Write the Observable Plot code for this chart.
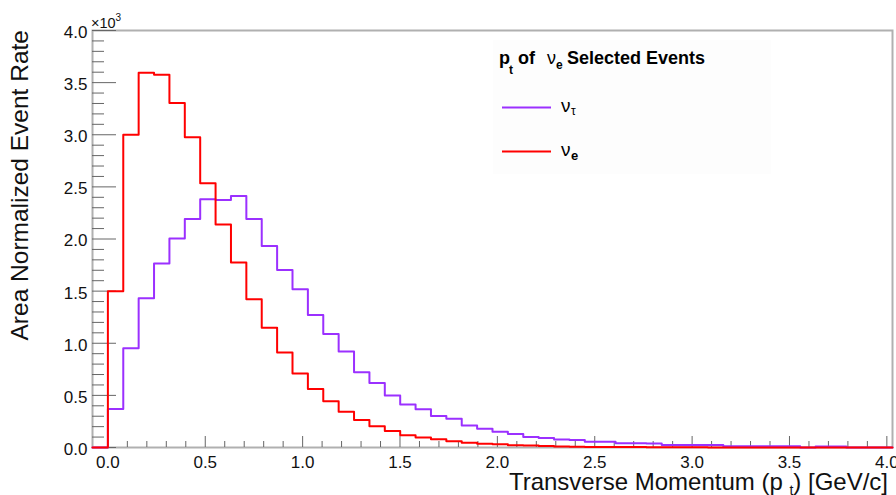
<!DOCTYPE html>
<html><head><meta charset="utf-8">
<script src="https://cdn.jsdelivr.net/npm/d3@7"></script>
<script src="https://cdn.jsdelivr.net/npm/@observablehq/plot@0.6"></script>
<style>body{margin:0;background:#fff}</style>
</head><body><div id="chart"></div>
<script>
// Histogram bin edges (GeV/c); first bin is the empty bin left of 0
const binEdges = [-0.079, 0, 0.079, 0.158, 0.237, 0.316, 0.395, 0.474, 0.553, 0.632, 0.711,
  0.790, 0.869, 0.948, 1.027, 1.106, 1.185, 1.264, 1.343, 1.422, 1.501, 1.580, 1.659,
  1.738, 1.817, 1.896, 1.975, 2.054, 2.133, 2.212, 2.291, 2.370, 2.449, 2.528, 2.607,
  2.686, 2.765, 2.844, 2.923, 3.002, 3.081, 3.160, 3.239, 3.318, 3.397, 3.476, 3.555,
  3.634, 3.713, 3.792, 3.871, 3.950, 4.029];
// nu_tau (purple) bin contents
const nuTauValues = [0, 370, 952, 1432, 1765, 2004, 2192, 2381, 2374, 2412, 2192, 1933, 1702,
  1518, 1271, 1089, 920, 722, 619, 498, 412, 367, 303, 276, 212, 180, 150, 130, 100, 90, 76,
  72, 56, 54, 40, 40, 38, 24, 25, 25, 25, 12, 12, 12, 12, 12, 0, 10, 10, 0, 0, 0];
// nu_e (red) bin contents
const nueValues = [0, 1500, 3000, 3595, 3575, 3305, 2975, 2535, 2140, 1775, 1422, 1148, 912,
  710, 562, 444, 342, 263, 205, 158, 118, 96, 78, 60, 46, 36, 30, 22, 18, 14, 10, 7, 5, 5,
  4, 4, 2, 2, 2, 2, 1, 1, 1, 1, 1, 0, 1, 0, 0, 0, 0, 0];
const xTickValues = [0, 0.5, 1.0, 1.5, 2.0, 2.5, 3.0, 3.5, 4.0];
const yTickValues = [0, 500, 1000, 1500, 2000, 2500, 3000, 3500, 4000];
const seriesNames = ["nu_tau", "nu_e"];
const seriesColors = ["#9b30ff", "#ff0000"];

function stepRows(values, series) {
  const rows = values.map((v, i) => ({x: binEdges[i], y: v, series}));
  rows.push({x: binEdges[values.length], y: values[values.length - 1], series});
  return rows;
}
const rowsTau = stepRows(nuTauValues, seriesNames[0]);
const rowsE = stepRows(nueValues, seriesNames[1]);

const xMin = binEdges[0], xMax = binEdges[binEdges.length - 1];
const xMinor = d3.range(0, 4.0001, 0.1).filter(v => !xTickValues.some(t => Math.abs(t - v) < 1e-6));
const yMinor = d3.range(0, 4001, 100).filter(v => !yTickValues.includes(v));

const chart = Plot.plot({
  width: 896, height: 495,
  marginLeft: 92, marginRight: 4, marginTop: 30, marginBottom: 48,
  style: {fontFamily: "'Liberation Sans', Arial, sans-serif", fontSize: "17px", color: "#111", background: "#fff"},
  x: {domain: [xMin, xMax]},
  y: {domain: [0, 4000]},
  marks: [
    Plot.frame({stroke: "#b0b0b0", strokeWidth: 2}),
    Plot.ruleX(xTickValues, {x: d => d, y1: 0, y2: 0, insetTop: -11, stroke: "#666", strokeWidth: 1}),
    Plot.ruleX(xMinor, {x: d => d, y1: 0, y2: 0, insetTop: -6, stroke: "#666", strokeWidth: 1}),
    Plot.ruleY(yTickValues, {y: d => d, x1: xMin, x2: xMin, insetRight: -24, stroke: "#666", strokeWidth: 1}),
    Plot.ruleY(yMinor, {y: d => d, x1: xMin, x2: xMin, insetRight: -12, stroke: "#666", strokeWidth: 1}),
    Plot.line(rowsTau, {x: "x", y: "y", curve: "step-after", stroke: seriesColors[0], strokeWidth: 2}),
    Plot.line(rowsE, {x: "x", y: "y", curve: "step-after", stroke: seriesColors[1], strokeWidth: 2}),
    Plot.axisX(xTickValues, {tickSize: 0, tickPadding: 8, tickFormat: d => d.toFixed(1), label: null, fontSize: 17, fill: "#111"}),
    Plot.axisY(yTickValues, {tickSize: 0, tickPadding: 5, tickFormat: d => (d / 1000).toFixed(1), label: null, fontSize: 17, fill: "#111", dy: 2})
  ]
});
document.getElementById("chart").appendChild(chart);

const svg = d3.select(chart);
const sans = "'Liberation Sans', Arial, sans-serif";

// y axis title
svg.append("text").attr("transform", "translate(28,30) rotate(-90)")
  .attr("text-anchor", "end").attr("font-family", sans).attr("font-size", 24.5).attr("fill", "#111")
  .text("Area Normalized Event Rate");

// x axis title
const xt = svg.append("text").attr("x", 888).attr("y", 490).attr("text-anchor", "end")
  .attr("font-family", sans).attr("font-size", 24).attr("fill", "#111");
xt.append("tspan").text("Transverse Momentum (p ");
xt.append("tspan").attr("font-size", 14).attr("dy", 5).text("t");
xt.append("tspan").attr("dy", -5).text(") [GeV/c]");

// exponent
const ex = svg.append("text").attr("x", 91).attr("y", 28).attr("text-anchor", "start")
  .attr("font-family", sans).attr("font-size", 14.5).attr("fill", "#111");
ex.append("tspan").text("\u00d710");
ex.append("tspan").attr("font-size", 10).attr("dy", -7).text("3");

// legend
const lg = svg.append("g").attr("text-anchor", "start");
lg.append("rect").attr("x", 493).attr("y", 40).attr("width", 278).attr("height", 134).attr("fill", "#fdfdfd");
function t(x, y, s, size, weight) {
  lg.append("text").attr("x", x).attr("y", y).attr("text-anchor", "start").attr("font-family", sans).attr("font-size", size)
    .attr("font-weight", weight || "normal").attr("fill", "#000").text(s);
}
t(499, 64, "p", 18, "bold");
t(509, 74, "t", 12, "bold");
t(518, 64, "of", 18, "bold");
t(547, 64, "\u03bd", 18, "normal");
t(556, 69, "e", 12, "bold");
t(567, 64, "Selected Events", 18, "bold");

lg.append("line").attr("x1", 502).attr("x2", 551).attr("y1", 107.5).attr("y2", 107.5).attr("stroke", seriesColors[0]).attr("stroke-width", 2);
t(561, 112, "\u03bd", 19, "normal");
t(571, 115, "\u03c4", 12, "normal");
lg.append("line").attr("x1", 502).attr("x2", 551).attr("y1", 151.5).attr("y2", 151.5).attr("stroke", seriesColors[1]).attr("stroke-width", 2);
t(561, 156, "\u03bd", 19, "normal");
t(571, 160, "e", 13, "bold");
</script>
</body></html>
